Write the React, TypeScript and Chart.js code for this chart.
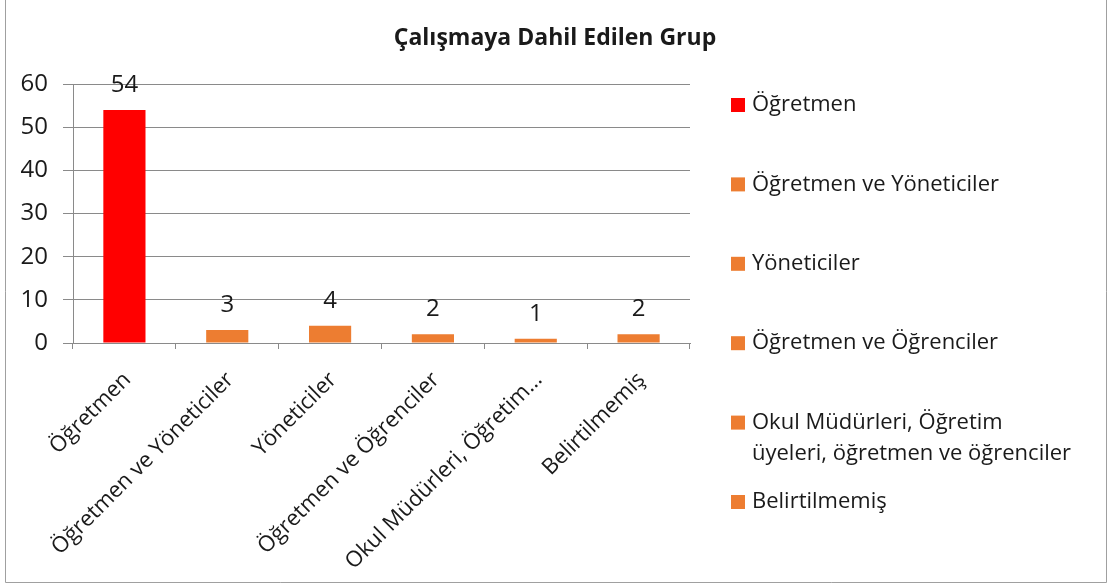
import React, { useEffect, useRef } from "react";
import { Chart, registerables } from "chart.js";

Chart.register(...registerables);

const chartTitle = "Çalışmaya Dahil Edilen Grup";
const categories = [
  "Öğretmen",
  "Öğretmen ve Yöneticiler",
  "Yöneticiler",
  "Öğretmen ve Öğrenciler",
  "Okul Müdürleri, Öğretim üyeleri, öğretmen ve öğrenciler",
  "Belirtilmemiş",
];
const xTickLabels = [
  "Öğretmen",
  "Öğretmen ve Yöneticiler",
  "Yöneticiler",
  "Öğretmen ve Öğrenciler",
  "Okul Müdürleri, Öğretim…",
  "Belirtilmemiş",
];
const legendLabels = [
  ["Öğretmen"],
  ["Öğretmen ve Yöneticiler"],
  ["Yöneticiler"],
  ["Öğretmen ve Öğrenciler"],
  ["Okul Müdürleri, Öğretim", "üyeleri, öğretmen ve öğrenciler"],
  ["Belirtilmemiş"],
];
const values = [54, 3, 4, 2, 1, 2];
const barColors = ["#FF0000", "#ED7D31", "#ED7D31", "#ED7D31", "#ED7D31", "#ED7D31"];
const yMin = 0;
const yMax = 60;
const yStep = 10;

const FONT = "'Open Sans', 'Noto Sans', sans-serif";
const TEXT = "#1a1a1a";
const GRID = "#8a8a8a";

const decorPlugin = {
  id: "decor",
  beforeDraw(chart: any) {
    const { ctx, width, height } = chart;
    ctx.save();
    ctx.fillStyle = "#ffffff";
    ctx.fillRect(0, 0, width, height);
    ctx.restore();
  },
  afterDraw(chart: any) {
    const { ctx, width, chartArea } = chart;
    ctx.save();
    // border
    ctx.strokeStyle = "#a0a0a0";
    ctx.lineWidth = 1;
    ctx.beginPath();
    ctx.moveTo(5.5, 0);
    ctx.lineTo(5.5, 582.5);
    ctx.lineTo(1106.5, 582.5);
    ctx.lineTo(1106.5, 0);
    ctx.stroke();
    // title
    ctx.fillStyle = TEXT;
    ctx.font = `bold 23px ${FONT}`;
    ctx.textAlign = "center";
    ctx.textBaseline = "middle";
    ctx.fillText(chartTitle, width / 2, 38);
    // data labels
    const meta = chart.getDatasetMeta(0);
    ctx.font = `24px ${FONT}`;
    ctx.textBaseline = "alphabetic";
    meta.data.forEach((el: any, i: number) => {
      ctx.fillText(String(values[i]), el.x, el.y - 18);
    });
    // legend
    const boxX = chartArea.right + 41;
    const textX = boxX + 21;
    const startY = 105;
    const step = 79.4;
    const lineH = 31;
    ctx.font = `22px ${FONT}`;
    ctx.textAlign = "left";
    ctx.textBaseline = "middle";
    legendLabels.forEach((lines, i) => {
      const cy = startY + i * step;
      ctx.fillStyle = barColors[i];
      ctx.fillRect(boxX, cy - 7, 14, 14);
      ctx.fillStyle = TEXT;
      lines.forEach((ln, j) => ctx.fillText(ln, textX, cy + j * lineH));
    });
    ctx.restore();
  },
};

export default function App() {
  const ref = useRef<HTMLCanvasElement | null>(null);
  useEffect(() => {
    if (!ref.current) return;
    const chart = new Chart(ref.current, {
      type: "bar",
      data: {
        labels: categories,
        datasets: [
          {
            data: values,
            backgroundColor: barColors,
            barPercentage: 0.41,
            categoryPercentage: 1,
          },
        ],
      },
      options: {
        responsive: false,
        animation: false,
        layout: { padding: { top: 84, right: 420, left: 0, bottom: 0 } },
        plugins: {
          legend: { display: false },
          title: { display: false },
          tooltip: { enabled: false },
        },
        scales: {
          x: {
            grid: {
              display: true,
              drawOnChartArea: false,
              drawTicks: true,
              tickLength: 6,
              color: GRID,
              offset: true,
            },
            border: { display: true, color: GRID },
            ticks: {
              autoSkip: false,
              minRotation: 45,
              maxRotation: 45,
              padding: 18,
              labelOffset: 3,
              color: TEXT,
              font: { family: FONT, size: 22 },
              callback: (_v: any, i: number) => xTickLabels[i],
            },
            afterFit: (s: any) => {
              s.height = 245;
            },
          },
          y: {
            min: yMin,
            max: yMax,
            grid: { color: GRID, tickLength: 10, drawTicks: true },
            border: { display: true, color: GRID },
            ticks: {
              stepSize: yStep,
              padding: 15,
              color: TEXT,
              font: { family: FONT, size: 24 },
            },
            afterFit: (s: any) => {
              s.width = 73;
            },
          },
        },
      },
      plugins: [decorPlugin],
    });
    return () => chart.destroy();
  }, []);
  return (
    <div style={{ position: "fixed", left: 0, top: 0, width: 1110, height: 588 }}>
      <canvas ref={ref} width={1110} height={588} />
    </div>
  );
}
